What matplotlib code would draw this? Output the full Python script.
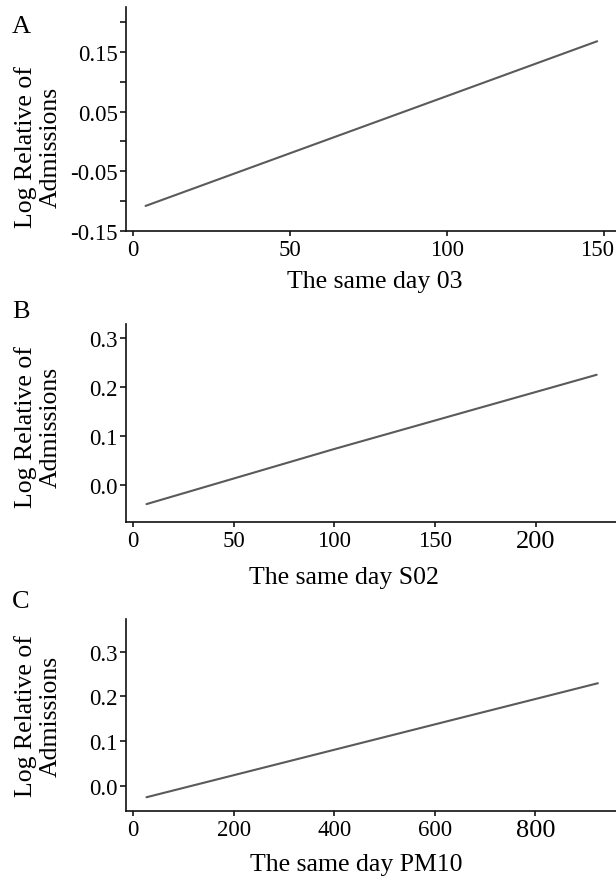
import numpy as np
import matplotlib
matplotlib.use("Agg")
from matplotlib import pyplot as plt
from matplotlib import transforms

plt.rcParams['font.family'] = ['Liberation Serif', 'DejaVu Serif']

# данные
o3_x = [4.0, 50, 100, 147.8]
o3_y = [-0.108, -0.0197, 0.0762, 0.168]

so2_x = [6.7, 100, 230.4]
so2_y = [-0.039, 0.0735, 0.225]

pm10_x = [26.8, 400, 924]
pm10_y = [-0.025, 0.081, 0.2296]

panel_letters = ['A', 'B', 'C']
x_labels = ['The same day 03', 'The same day S02', 'The same day PM10']
y_label = 'Log Relative of\nAdmissions'

W, H = 616, 878
fig = plt.figure(figsize=(W / 100, H / 100), dpi=100)

def px_rect(left, top, right, bottom):
    return [left / W, 1 - bottom / H, (right - left) / W, (bottom - top) / H]

panels = [
    dict(rect=px_rect(126, 8, 616, 232), x=o3_x, y=o3_y,
         xlim=(-2.23, 153.8), ylim=(-0.15, 0.2254),
         xticks=[0, 50, 100, 150], yticks=[-0.15, -0.05, 0.05, 0.15],
         yminor=[-0.10, 0.0, 0.10, 0.20], yfmt='{:.2f}', big_last=False, shift_last=-7,
         letter_y=33, ylab_y=147, xlab_x=375, xlab_y=288),
    dict(rect=px_rect(126, 325, 616, 523), x=so2_x, y=so2_y,
         xlim=(-3.48, 240.0), ylim=(-0.0755, 0.3286),
         xticks=[0, 50, 100, 150, 200], yticks=[0.0, 0.1, 0.2, 0.3],
         yminor=[], yfmt='{:.1f}', big_last=True, shift_last=0,
         letter_y=318, ylab_y=427, xlab_x=344, xlab_y=584),
    dict(rect=px_rect(126, 620, 616, 812), x=pm10_x, y=pm10_y,
         xlim=(-13.9, 960.0), ylim=(-0.0557, 0.373),
         xticks=[0, 200, 400, 600, 800], yticks=[0.0, 0.1, 0.2, 0.3],
         yminor=[], yfmt='{:.1f}', big_last=True, shift_last=0,
         letter_y=608, ylab_y=716, xlab_x=356, xlab_y=871),
]

for i, p in enumerate(panels):
    ax = fig.add_axes(p['rect'])
    ax.plot(p['x'], p['y'], color='#5a5a5a', linewidth=1.5, solid_capstyle='round')
    ax.set_xlim(*p['xlim'])
    ax.set_ylim(*p['ylim'])

    ax.spines['top'].set_visible(False)
    ax.spines['right'].set_visible(False)
    for s in ['left', 'bottom']:
        ax.spines[s].set_linewidth(1.2)
        ax.spines[s].set_color('#111111')

    ax.set_xticks(p['xticks'])
    xtl = ax.set_xticklabels([str(t) for t in p['xticks']], fontsize=16.5)
    ax.set_yticks(p['yticks'])
    ax.set_yticklabels([p['yfmt'].format(t) for t in p['yticks']], fontsize=16.5)
    if p['yminor']:
        ax.set_yticks(p['yminor'], minor=True)
    ax.tick_params(axis='y', which='both', length=4.3, width=1.1, pad=1.5, direction='out')
    ax.tick_params(axis='x', length=3.3, width=1.1, pad=2.5, direction='out')

    # последняя подпись оси X в оригинале крупнее / сдвинута
    if p['big_last']:
        xtl[-1].set_fontsize(19)
    if p['shift_last']:
        xtl[-1].set_transform(xtl[-1].get_transform() +
                              transforms.ScaledTranslation(p['shift_last'] / 100, 0, fig.dpi_scale_trans))

    fig.text(12 / W, 1 - p['letter_y'] / H, panel_letters[i], fontsize=19, va='baseline', ha='left')
    fig.text(38 / W, 1 - p['ylab_y'] / H, y_label, fontsize=18.5, rotation=90,
             ha='center', va='center', multialignment='center', linespacing=1.15)
    fig.text(p['xlab_x'] / W, 1 - p['xlab_y'] / H, x_labels[i], fontsize=18.5,
             ha='center', va='baseline')

fig.savefig('out.png', dpi=100)
